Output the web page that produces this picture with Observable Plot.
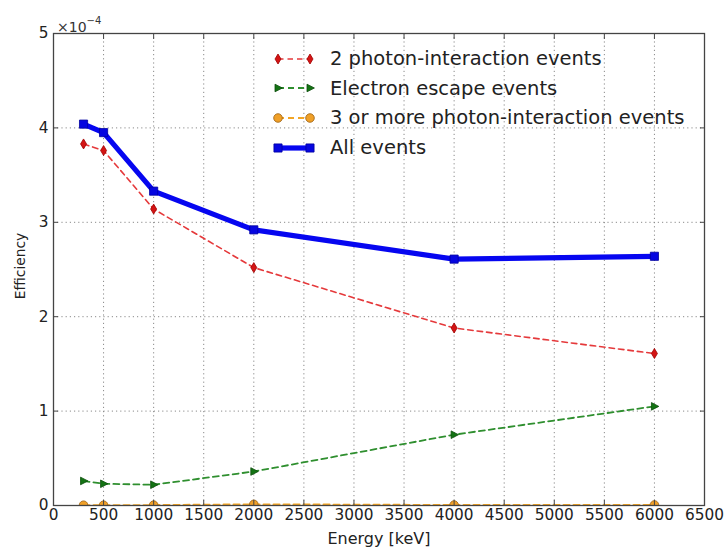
<!DOCTYPE html>
<html>
<head>
<meta charset="utf-8">
<script src="https://cdn.jsdelivr.net/npm/d3@7"></script>
<script src="https://cdn.jsdelivr.net/npm/@observablehq/plot@0.6"></script>
<style>
  body { margin: 0; background: #fff; }
  #chart { position: relative; width: 725px; height: 548px; font-family: "DejaVu Sans", sans-serif; color: #222; overflow: hidden; }
  .axis-title { position: absolute; white-space: nowrap; color: #222; line-height: 1; }
  #xtitle { left: 379px; top: 539px; font-size: 16px; transform: translate(-50%, -50%); }
  #ytitle { left: 21px; top: 266px; font-size: 13.8px; transform: translate(-50%, -50%) rotate(-90deg); }
  #exponent { position: absolute; left: 57px; top: 18px; font-size: 14px; color: #333; line-height: 1; }
  #exponent sup { font-size: 10px; position: relative; top: -2px; }
  #legend { position: absolute; left: 272px; top: 44px; font-size: 19.5px; color: #222; }
  #legend .row { display: flex; align-items: center; height: 29.6px; }
  #legend svg { width: 44px; height: 20px; margin-right: 14px; overflow: visible; flex: none; }
</style>
</head>
<body>
<div id="chart"></div>
<script>
// Detection efficiency (×10^-4) versus incident gamma energy
const energy = [300, 500, 1000, 2000, 4000, 6000];
const twoPhoton = [3.83, 3.76, 3.14, 2.52, 1.88, 1.61];
const electronEscape = [0.26, 0.23, 0.22, 0.36, 0.75, 1.05];
const threeOrMore = [0.003, 0.003, 0.004, 0.012, 0.005, 0.006];
const allEvents = [4.04, 3.95, 3.33, 2.92, 2.61, 2.64];

const xTicks = d3.range(0, 6501, 500);
const yTicks = [0, 1, 2, 3, 4, 5];
const seriesNames = [
  "2 photon-interaction events",
  "Electron escape events",
  "3 or more photon-interaction events",
  "All events"
];
const xTitle = "Energy [keV]";
const yTitle = "Efficiency";

// Marker shapes (size is the symbol area, as d3.symbol expects)
const thinDiamond = {
  draw(ctx, size) {
    const r = Math.sqrt(size / Math.PI);
    ctx.moveTo(0, -r * 1.25);
    ctx.lineTo(r * 0.75, 0);
    ctx.lineTo(0, r * 1.25);
    ctx.lineTo(-r * 0.75, 0);
    ctx.closePath();
  }
};
const triangleRight = {
  draw(ctx, size) {
    const r = Math.sqrt(size / Math.PI);
    ctx.moveTo(r * 1.1, 0);
    ctx.lineTo(-r * 0.75, -r * 0.95);
    ctx.lineTo(-r * 0.75, r * 0.95);
    ctx.closePath();
  }
};

const series = [
  { name: seriesNames[0], values: twoPhoton, stroke: "#e5393b", width: 1.6, dash: "5.5,4", symbol: thinDiamond, fill: "#d41414", edge: "#a00000", r: 4, clip: false },
  { name: seriesNames[1], values: electronEscape, stroke: "#2f8f2f", width: 1.8, dash: "6,4", symbol: triangleRight, fill: "#137313", edge: "#0b4d0b", r: 4, clip: false },
  { name: seriesNames[2], values: threeOrMore, stroke: "#f2a526", width: 2, dash: "6,4", symbol: "circle", fill: "#f0a028", edge: "#9a6010", r: 4.3, clip: true },
  { name: seriesNames[3], values: allEvents, stroke: "#0606f0", width: 5.2, dash: null, symbol: "square", fill: "#0606e0", edge: "#0000a0", r: 4.6, clip: false }
];

const rows = (values) => energy.map((e, i) => ({ energy: e, eff: values[i] }));

const seriesMarks = series.flatMap((s) => [
  Plot.line(rows(s.values), {
    x: "energy", y: "eff", stroke: s.stroke, strokeWidth: s.width,
    strokeDasharray: s.dash, clip: s.clip
  }),
  Plot.dot(rows(s.values), {
    x: "energy", y: "eff", symbol: s.symbol, r: s.r, fill: s.fill,
    stroke: s.edge, strokeWidth: 0.8, clip: s.clip
  })
]);

const gridStyle = { stroke: "#8a8a8a", strokeOpacity: 1, strokeWidth: 1, strokeDasharray: "1.2,3" };
const axisColor = "#444";
const tickFont = 15.3;

const chart = Plot.plot({
  width: 725,
  height: 548,
  marginTop: 33,
  marginLeft: 53,
  marginRight: 21,
  marginBottom: 43,
  style: { fontFamily: "DejaVu Sans, sans-serif", fontSize: "15px", color: "#222", background: "white" },
  x: { domain: [0, 6500] },
  y: { domain: [0, 5] },
  marks: [
    Plot.gridX(xTicks, gridStyle),
    Plot.gridY(yTicks, gridStyle),
    ...seriesMarks,
    Plot.frame({ stroke: axisColor, strokeWidth: 1.3 }),
    Plot.axisX(xTicks, { tickSize: 0, tickPadding: 4, fontSize: tickFont, tickFormat: (d) => String(d), label: null }),
    Plot.axisX(xTicks, { tickSize: -5, tickFormat: () => "", label: null, stroke: axisColor }),
    Plot.axisX(xTicks, { anchor: "top", tickSize: -5, tickFormat: () => "", label: null, stroke: axisColor }),
    Plot.axisY(yTicks, { tickSize: 0, tickPadding: 5, fontSize: tickFont, tickFormat: (d) => String(d), label: null }),
    Plot.axisY(yTicks, { tickSize: -5, tickFormat: () => "", label: null, stroke: axisColor }),
    Plot.axisY(yTicks, { anchor: "right", tickSize: -5, tickFormat: () => "", label: null, stroke: axisColor })
  ]
});

const root = document.getElementById("chart");
root.appendChild(chart);

// Axis titles
const xt = document.createElement("div");
xt.className = "axis-title"; xt.id = "xtitle"; xt.textContent = xTitle;
root.appendChild(xt);
const yt = document.createElement("div");
yt.className = "axis-title"; yt.id = "ytitle"; yt.textContent = yTitle;
root.appendChild(yt);

// Scale multiplier above the y axis
const exp = document.createElement("div");
exp.id = "exponent";
exp.innerHTML = "×10<sup>−4</sup>";
root.appendChild(exp);

// Legend: dashed/solid sample with a marker at each end
const legend = d3.select(root).append("div").attr("id", "legend");
for (const s of series) {
  const row = legend.append("div").attr("class", "row");
  const svg = row.append("svg");
  svg.append("line")
    .attr("x1", 6).attr("x2", 38).attr("y1", 10).attr("y2", 10)
    .attr("stroke", s.stroke).attr("stroke-width", s.width)
    .attr("stroke-dasharray", s.dash);
  const sym = d3.symbol(typeof s.symbol === "string" ? (s.symbol === "square" ? d3.symbolSquare : d3.symbolCircle) : s.symbol, s.r * s.r * Math.PI);
  for (const cx of [6, 38]) {
    svg.append("path")
      .attr("d", sym())
      .attr("transform", `translate(${cx},10)`)
      .attr("fill", s.fill).attr("stroke", s.edge).attr("stroke-width", 0.8);
  }
  row.append("span").text(s.name);
}
</script>
</body>
</html>
